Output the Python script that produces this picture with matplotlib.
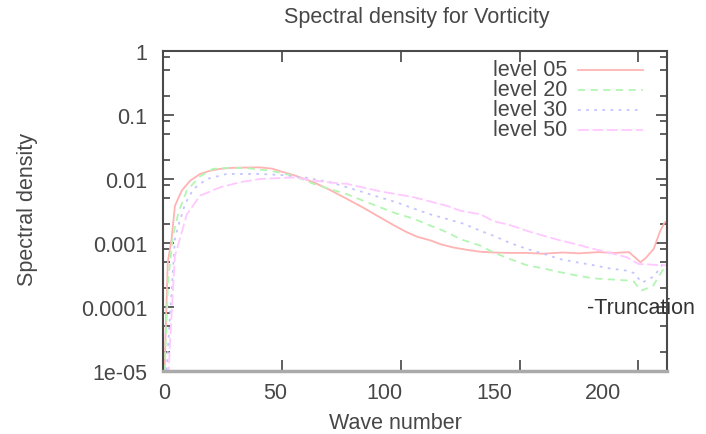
import matplotlib
matplotlib.use("Agg")
import matplotlib.pyplot as plt
import numpy as np
from matplotlib.ticker import FixedLocator, NullFormatter
from matplotlib.transforms import ScaledTranslation

# spectra (wave number, spectral density)
k05 = [0, 1, 2, 3.6, 5, 7.9, 11.4, 15.6, 20, 24, 30, 40.8, 46, 49.3, 55, 63.3, 70, 77.3, 84,
       91.4, 97, 102.6, 107, 112.4, 117, 122.2, 128, 133.5, 139, 146, 153, 160, 168, 175, 183,
       190, 196, 200.8, 203, 206.4, 209, 211, 212]
v05 = [1e-6, 3e-5, 0.0005, 0.00115, 0.0038, 0.0066, 0.0094, 0.012, 0.0135, 0.0144, 0.015,
       0.0152, 0.0145, 0.0132, 0.0115, 0.0089, 0.0068, 0.0049, 0.0036, 0.0025, 0.0019, 0.00147,
       0.00125, 0.0011, 0.00095, 0.00085, 0.00078, 0.00073, 0.00071, 0.00070, 0.00070, 0.00068,
       0.00071, 0.00069, 0.00072, 0.0007, 0.00072, 0.0005, 0.00058, 0.00081, 0.0015, 0.0021,
       0.0022]

k20 = [0, 1, 2.2, 4.2, 6.5, 10, 15.6, 21, 27, 35, 45, 55, 63.3, 70, 77.3, 84, 91.4, 98, 105.4,
       112, 119.5, 125, 133.5, 139, 146, 153, 160, 167, 174, 181, 188, 195, 198, 201, 206, 210,
       212]
v20 = [1e-6, 2e-5, 0.00027, 0.0013, 0.003, 0.0066, 0.011, 0.0144, 0.0149, 0.0148, 0.0135,
       0.0112, 0.0084, 0.0070, 0.0058, 0.0046, 0.0036, 0.0029, 0.0024, 0.0019, 0.00147, 0.00115,
       0.00091, 0.00071, 0.00056, 0.00045, 0.0004, 0.00035, 0.00031, 0.00028, 0.00027, 0.00026,
       0.00025, 0.00018, 0.00021, 0.00037, 0.00045]

k30 = [0, 1.5, 3, 5, 6.5, 9.3, 12.8, 18.4, 26.8, 40.8, 50, 60, 70.3, 77, 84.3, 91, 98.4, 105,
       112.4, 119, 126.4, 133.5, 139, 146, 153, 160, 167, 174, 181, 188, 195, 198, 201.5, 206.5,
       210.7, 212]
v30 = [1e-6, 1e-5, 8e-5, 0.00115, 0.0019, 0.0041, 0.007, 0.010, 0.012, 0.012, 0.0115, 0.0105,
       0.0089, 0.0075, 0.0062, 0.0052, 0.0043, 0.0035, 0.0028, 0.0024, 0.0020, 0.00155, 0.0013,
       0.001, 0.00081, 0.00068, 0.00056, 0.0005, 0.00045, 0.0004, 0.00037, 0.00034, 0.00024,
       0.0003, 0.0005, 0.00053]

k50 = [0, 2, 3, 5, 7.2, 10, 15.6, 24, 32.4, 40.8, 54.7, 68.8, 77.3, 91.4, 105.4, 119.5, 125,
       133.5, 139, 146, 153, 160, 167, 174, 181, 188, 195, 200, 205, 209, 212]
v50 = [1e-6, 5e-6, 3e-5, 0.00063, 0.0012, 0.0028, 0.0055, 0.0074, 0.0089, 0.010, 0.0106,
       0.0089, 0.0084, 0.0064, 0.0052, 0.0038, 0.0032, 0.0028, 0.0022, 0.0019, 0.00155, 0.0013,
       0.0011, 0.00095, 0.00081, 0.0007, 0.0006, 0.00047, 0.00046, 0.00045, 0.00045]

labels = ["level 05", "level 20", "level 30", "level 50"]
xticks = [0, 50, 100, 150, 200]
yticks = [1e-5, 1e-4, 1e-3, 1e-2, 1e-1, 1]
ytick_labels = ["1e-05", "0.0001", "0.001", "0.01", "0.1", "1"]

txt = "#474747"
fs = 15.5
plt.rcParams["font.family"] = ["Liberation Sans", "DejaVu Sans"]

fig = plt.figure(figsize=(7.06, 4.35), dpi=100)
ax = fig.add_axes([0.2309, 0.1448, 0.7139, 0.7357])

series = [(k05, v05), (k20, v20), (k30, v30), (k50, v50)]
colors = ["#ffb3b3", "#b3f5b3", "#c4c4ff", "#ffc8ff"]
styles = ["-", (0, (4, 3)), (0, (1.5, 3)), (0, (6, 2))]

for i, (k, v) in enumerate(series):
    ax.plot(k, v, color=colors[i], lw=1.3, ls=styles[i])

ax.set_yscale("log")
ax.set_xlim(0, 212)
ax.set_ylim(1e-5, 1)
ax.set_xticks(xticks)
ax.set_yticks(yticks)
ax.set_yticklabels(ytick_labels)
minors = [m * 10.0 ** e for e in range(-5, 0) for m in (2, 5, 8)]
ax.yaxis.set_minor_locator(FixedLocator(minors))
ax.yaxis.set_minor_formatter(NullFormatter())
ax.tick_params(which="both", direction="in", top=True, right=True, colors="#444444",
               labelcolor=txt, labelsize=fs)
ax.tick_params(which="major", length=8, width=1.2)
ax.tick_params(which="minor", length=5, width=1.2)
ax.tick_params(axis="y", pad=11.5)
ax.tick_params(axis="x", pad=8)

# the x labels in the picture sit a little left of their ticks
shifts = [1, -7, -16, -25, -35]
for lab, dx in zip(ax.get_xticklabels(), shifts):
    lab.set_transform(lab.get_transform() + ScaledTranslation(dx / 100, 0, fig.dpi_scale_trans))

for side in ["left", "right", "top"]:
    ax.spines[side].set_color("#4a4a4a")
    ax.spines[side].set_linewidth(1.5)
ax.spines["bottom"].set_color("#aaaaaa")
ax.spines["bottom"].set_linewidth(2.5)

ax.text(178.5, 1e-4, "-Truncation", fontsize=fs, color="#333333", va="center",
        ha="left", clip_on=False)

# gnuplot style key: label right aligned, then a sample of the line
for i, lab in enumerate(labels):
    yk = (372 - (71 + 20 * i)) / 320
    ax.text((567 - 163) / 504, yk, lab, transform=ax.transAxes, ha="right", va="center",
            fontsize=fs, color=txt)
    ax.plot([(578 - 163) / 504, (643 - 163) / 504], [yk, yk], transform=ax.transAxes,
            color=colors[i], lw=1.3, ls=styles[i])

fig.text(416.5 / 706, 1 - 18 / 435, "Spectral density for Vorticity", ha="center",
         va="center", fontsize=fs, color=txt)
fig.text(395 / 706, 1 - 424 / 435, "Wave number", ha="center", va="center", fontsize=fs,
         color=txt)
fig.text(28 / 706, 1 - 210 / 435, "Spectral density", rotation=90, ha="center", va="center",
         fontsize=fs, color=txt)

fig.savefig("out.png", dpi=100)
